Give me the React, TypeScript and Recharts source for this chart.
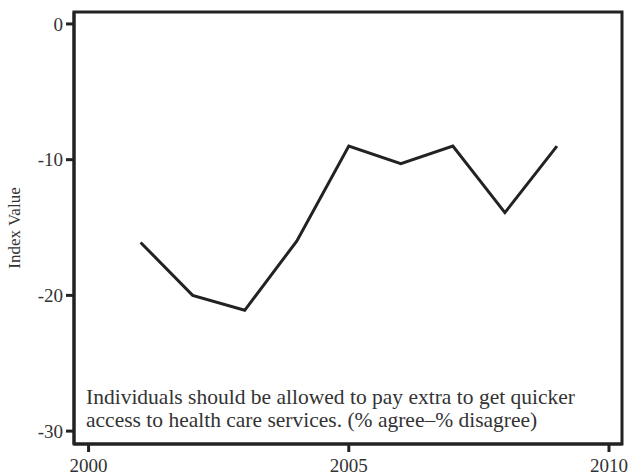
import { Line, LineChart, ReferenceArea, XAxis, YAxis } from 'recharts'

const years = [2001, 2002, 2003, 2004, 2005, 2006, 2007, 2008, 2009]
const indexValues = [-16.1, -20.0, -21.1, -16.0, -9.0, -10.3, -9.0, -13.9, -9.0]
const xTicks = [2000, 2005, 2010]
const yTicks = [0, -10, -20, -30]
const noteLines = [
  'Individuals should be allowed to pay extra to get quicker',
  'access to health care services. (% agree–% disagree)',
]

const data = years.map((year, i) => ({ year, value: indexValues[i] }))

const X_DOMAIN: [number, number] = [1999.72, 2010.25]
const Y_DOMAIN: [number, number] = [-30.95, 0.88]
const FONT = 'Liberation Serif'
const INK = '#222'

export default function App() {
  return (
    <div style={{ position: 'absolute', left: 0, top: 0, background: '#fff', fontFamily: FONT }}>
      <LineChart
        width={628}
        height={475}
        data={data}
        margin={{ top: 12, right: 6, bottom: 0, left: 0 }}
        style={{ fontFamily: FONT }}
      >
        <XAxis
          dataKey="year"
          type="number"
          domain={X_DOMAIN}
          ticks={xTicks}
          allowDataOverflow
          height={31}
          stroke={INK}
          strokeWidth={3}
          tickSize={8}
          tickMargin={7}
          tick={{ fill: '#333', fontSize: 19, fontFamily: FONT }}
        />
        <YAxis
          type="number"
          domain={Y_DOMAIN}
          ticks={yTicks}
          allowDataOverflow
          width={74}
          stroke={INK}
          strokeWidth={3}
          tickSize={8}
          tickMargin={3}
          tick={{ fill: '#333', fontSize: 19, fontFamily: FONT }}
          label={{
            value: 'Index Value',
            angle: -90,
            position: 'insideLeft',
            offset: 14,
            style: { fill: '#333', fontSize: 17, fontFamily: FONT, textAnchor: 'middle' },
          }}
        />
        <ReferenceArea
          x1={X_DOMAIN[0]}
          x2={X_DOMAIN[1]}
          y1={Y_DOMAIN[0]}
          y2={Y_DOMAIN[1]}
          fill="none"
          stroke={INK}
          strokeWidth={3}
          ifOverflow="visible"
        />
        <Line
          type="linear"
          dataKey="value"
          stroke={INK}
          strokeWidth={3}
          dot={false}
          isAnimationActive={false}
        />
        {noteLines.map((line, i) => (
          <text key={i} x={86} y={404 + i * 23} fill="#333" fontSize={21.5} fontFamily={FONT}>
            {line}
          </text>
        ))}
      </LineChart>
    </div>
  )
}
